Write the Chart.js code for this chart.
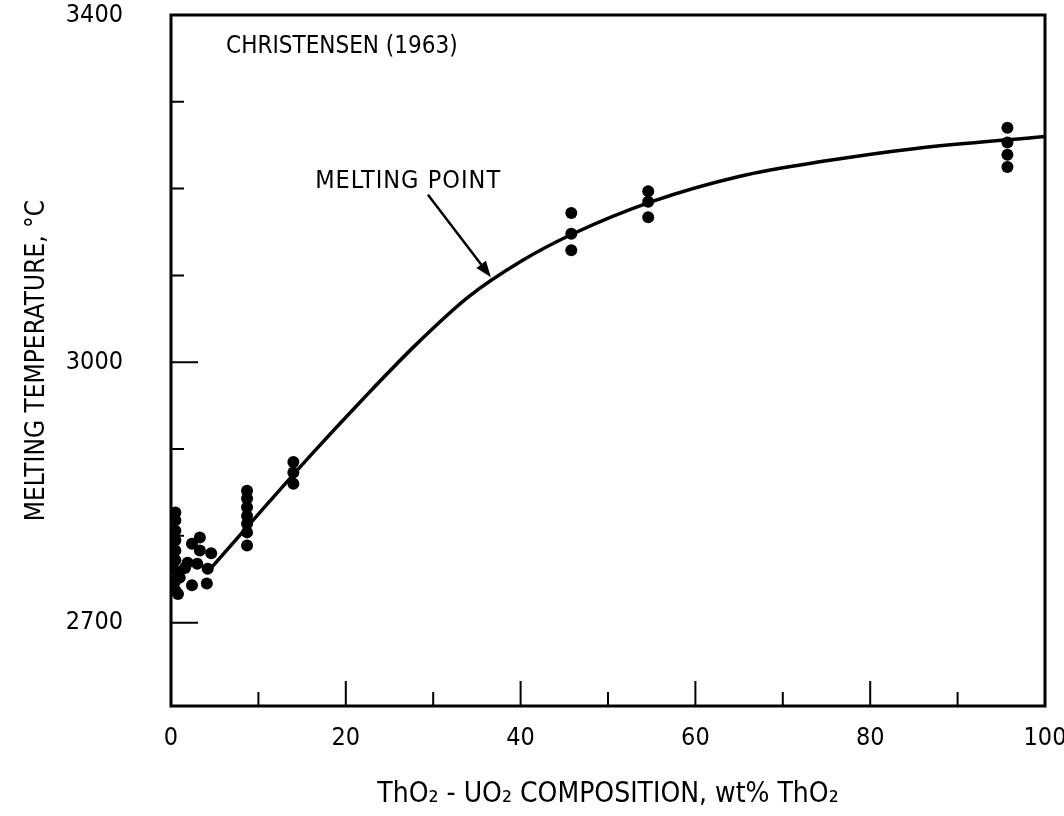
<!DOCTYPE html>
<html>
<head>
<meta charset="utf-8">
<script src="https://cdn.jsdelivr.net/npm/chart.js@4.4.1/dist/chart.umd.min.js"></script>
<style>
  html, body { margin: 0; padding: 0; background: #fff; }
  #wrap { width: 1064px; height: 816px; }
</style>
</head>
<body>
<div id="wrap"><canvas id="c" width="1064" height="816"></canvas></div>
<script>
// ---- Data ----
const dataX = [0.5, 0.5, 0.5, 0.5, 0.5, 0.5, 0.5, 0.5, 0.5,
               0.8, 1.0, 1.6, 1.9, 2.4, 2.4, 3.0, 3.3, 3.3, 4.1, 4.2, 4.6,
               8.7, 8.7, 8.7, 8.7, 8.7, 8.7, 8.7,
               14.0, 14.0, 14.0,
               45.8, 45.8, 45.8,
               54.6, 54.6, 54.6,
               95.7, 95.7, 95.7, 95.7];
const dataY = [2827, 2818, 2806, 2795, 2783, 2772, 2760, 2748, 2737,
               2733, 2752, 2763, 2769, 2791, 2743, 2768, 2798, 2783, 2745, 2762, 2780,
               2852, 2843, 2833, 2823, 2814, 2804, 2789,
               2885, 2873, 2860,
               3172, 3148, 3129,
               3197, 3185, 3167,
               3270, 3253, 3239, 3225];

const curveX = [4.5, 10, 16, 22, 28, 34, 40, 46, 55, 65, 75, 85, 100];
const curveY = [2762, 2825, 2893, 2958, 3020, 3075, 3116, 3148, 3185, 3214, 3232, 3246, 3260];

const xTickValues = [0, 10, 20, 30, 40, 50, 60, 70, 80, 90, 100];
const xTickLabels = [0, 20, 40, 60, 80, 100];
const yTickValues = [2700, 2800, 2900, 3000, 3100, 3200, 3300, 3400];
const yTickLabels = [2700, 3000, 3400];

const seriesLabel = 'CHRISTENSEN (1963)';
const curveLabel = 'MELTING POINT';
const xTitle = 'ThO\u2082 - UO\u2082 COMPOSITION, wt% ThO\u2082';
const yTitle = 'MELTING TEMPERATURE, \u00B0C';

// ---- Build ----
const FONT = "'Liberation Sans Narrow', 'DejaVu Sans Condensed', 'Roboto', sans-serif";
const points = dataX.map((x, i) => ({ x: x, y: dataY[i] }));
const curve = curveX.map((x, i) => ({ x: x, y: curveY[i] }));

function zeroPad(s) { s.paddingTop = 0; s.paddingBottom = 0; s.paddingLeft = 0; s.paddingRight = 0; }

const frameAndTicks = {
  id: 'frameAndTicks',
  afterDatasetsDraw(chart) {
    const { ctx, chartArea: a, scales: { x, y } } = chart;
    ctx.save();
    ctx.strokeStyle = '#000';
    // inward ticks
    ctx.lineWidth = 2;
    ctx.beginPath();
    xTickValues.forEach(v => {
      const px = x.getPixelForValue(v);
      const len = xTickLabels.includes(v) ? 25 : 14;
      ctx.moveTo(px, a.bottom);
      ctx.lineTo(px, a.bottom - len);
    });
    yTickValues.forEach(v => {
      const py = y.getPixelForValue(v);
      const len = yTickLabels.includes(v) ? 27 : 13;
      ctx.moveTo(a.left, py);
      ctx.lineTo(a.left + len, py);
    });
    ctx.stroke();
    // frame
    ctx.lineWidth = 3;
    ctx.strokeRect(a.left, a.top, a.right - a.left, a.bottom - a.top);

    // annotations
    ctx.fillStyle = '#000';
    ctx.textBaseline = 'middle';
    ctx.textAlign = 'left';
    ctx.font = "24px " + FONT;
    ctx.fillText(seriesLabel, x.getPixelForValue(6.3), y.getPixelForValue(3363));
    ctx.font = "25px " + FONT;
    if ('letterSpacing' in ctx) ctx.letterSpacing = '1px';
    ctx.fillText(curveLabel, x.getPixelForValue(16.5), y.getPixelForValue(3208));
    if ('letterSpacing' in ctx) ctx.letterSpacing = '0px';

    // arrow
    const x0 = x.getPixelForValue(29.4), y0 = y.getPixelForValue(3193);
    const x1 = x.getPixelForValue(36.6), y1 = y.getPixelForValue(3098);
    const ang = Math.atan2(y1 - y0, x1 - x0);
    const hl = 16, hw = 6;
    const bx = x1 - hl * Math.cos(ang), by = y1 - hl * Math.sin(ang);
    ctx.lineWidth = 2.5;
    ctx.beginPath();
    ctx.moveTo(x0, y0);
    ctx.lineTo(bx, by);
    ctx.stroke();
    ctx.beginPath();
    ctx.moveTo(x1, y1);
    ctx.lineTo(bx + hw * Math.sin(ang), by - hw * Math.cos(ang));
    ctx.lineTo(bx - hw * Math.sin(ang), by + hw * Math.cos(ang));
    ctx.closePath();
    ctx.fill();
    ctx.restore();
  }
};

new Chart(document.getElementById('c'), {
  type: 'scatter',
  data: {
    datasets: [
      {
        type: 'line',
        label: curveLabel,
        data: curve,
        borderColor: '#000',
        borderWidth: 3.5,
        pointRadius: 0,
        fill: false,
        cubicInterpolationMode: 'monotone'
      },
      {
        label: seriesLabel,
        data: points,
        backgroundColor: '#000',
        borderColor: '#000',
        pointRadius: 6,
        borderWidth: 0
      }
    ]
  },
  options: {
    responsive: false,
    animation: false,
    devicePixelRatio: 1,
    layout: { padding: { top: 15, right: 19, left: 0, bottom: 0 } },
    plugins: { legend: { display: false }, tooltip: { enabled: false } },
    scales: {
      x: {
        type: 'linear',
        min: 0, max: 100,
        afterBuildTicks: s => { s.ticks = xTickValues.map(v => ({ value: v })); },
        afterFit: s => { s.height = 110; zeroPad(s); },
        grid: { display: false, drawTicks: false },
        border: { display: false },
        ticks: {
          autoSkip: false, maxRotation: 0,
          color: '#000', padding: 17,
          font: { family: FONT, size: 25 },
          callback: v => xTickLabels.includes(v) ? String(v) : ''
        },
        title: {
          display: true, text: xTitle, color: '#000',
          font: { family: FONT, size: 28 },
          padding: { top: 0, bottom: 4 }
        }
      },
      y: {
        type: 'linear',
        min: 2604, max: 3400,
        afterBuildTicks: s => { s.ticks = yTickValues.map(v => ({ value: v })); },
        afterFit: s => { s.width = 171; zeroPad(s); },
        grid: { display: false, drawTicks: false },
        border: { display: false },
        ticks: {
          autoSkip: false,
          color: '#000', padding: 48,
          font: { family: FONT, size: 25 },
          callback: v => yTickLabels.includes(v) ? String(v) : ''
        },
        title: {
          display: true, text: yTitle, color: '#000',
          font: { family: FONT, size: 26 },
          padding: { top: 22, bottom: 0 }
        }
      }
    }
  },
  plugins: [frameAndTicks]
});
</script>
</body>
</html>
